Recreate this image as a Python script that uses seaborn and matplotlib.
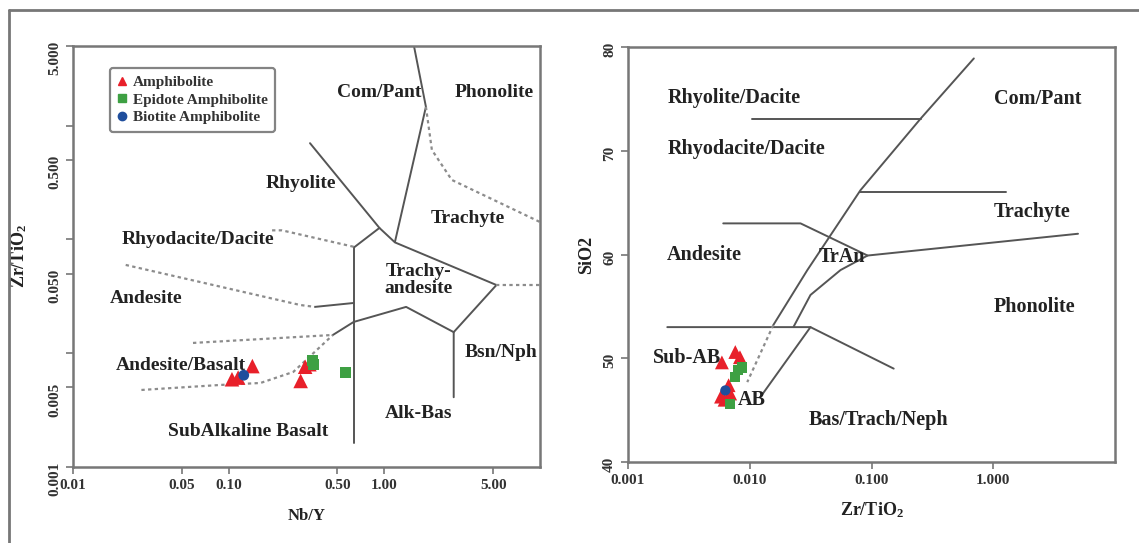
import numpy as np
import pandas as pd
import seaborn as sns
import matplotlib.pyplot as plt
from matplotlib.lines import Line2D
from matplotlib.ticker import FixedLocator, NullLocator, NullFormatter

# ---------------- sample data ----------------
rock_types = ["Amphibolite", "Epidote Amphibolite", "Biotite Amphibolite"]

# left diagram: Nb/Y vs Zr/TiO2
amph_nby = [0.105, 0.115, 0.142, 0.31, 0.33, 0.29]
amph_zr_left = [0.0059, 0.0061, 0.0077, 0.0076, 0.0080, 0.0057]
epi_nby = [0.345, 0.35, 0.56]
epi_zr_left = [0.0086, 0.0080, 0.0068]
bio_nby = [0.125]
bio_zr_left = [0.0064]

# right diagram: Zr/TiO2 vs SiO2
amph_zr_right = [0.0076, 0.0083, 0.0059, 0.0058, 0.0069, 0.0062, 0.0067]
amph_sio2 = [50.6, 50.1, 49.6, 46.3, 46.6, 46.0, 47.4]
epi_zr_right = [0.0086, 0.0076, 0.0069, 0.0080]
epi_sio2 = [49.1, 48.2, 45.6, 48.9]
bio_zr_right = [0.0063]
bio_sio2 = [46.9]

# ---------------- field boundaries ----------------
# left (Nb/Y, Zr/TiO2)
left_solid = [
    [(1.55, 5.0), (1.85, 1.46), (1.17, 0.095)],
    [(0.333, 0.70), (0.93, 0.126), (1.17, 0.094), (5.25, 0.0397)],
    [(0.93, 0.126), (0.644, 0.0857)],
    [(0.635, 0.0857), (0.635, 0.00163)],
    [(5.25, 0.0397), (2.79, 0.0153), (2.79, 0.0041)],
    [(2.79, 0.0153), (1.38, 0.0255), (0.635, 0.0188), (0.467, 0.01445)],
    [(0.358, 0.0255), (0.635, 0.0276)],
]
left_dotted = [
    [(1.85, 1.46), (2.02, 0.611), (2.71, 0.333), (10.0, 0.142)],
    [(0.19, 0.12), (0.22, 0.12), (0.644, 0.0857)],
    [(0.0218, 0.0596), (0.288, 0.0265), (0.358, 0.0255)],
    [(0.059, 0.0123), (0.467, 0.01445)],
    [(0.0275, 0.00475), (0.089, 0.00526), (0.16, 0.00547), (0.26, 0.00684), (0.467, 0.01445)],
    [(5.25, 0.0397), (10.0, 0.0397)],
]
left_labels = [
    ("Com/Pant", 0.93, 1.97), ("Phonolite", 5.09, 1.97), ("Rhyolite", 0.292, 0.307),
    ("Trachyte", 3.43, 0.154), ("Rhyodacite/Dacite", 0.0635, 0.0989),
    ("Trachy-\nandesite", 1.647, 0.044), ("Andesite", 0.0296, 0.0305),
    ("Andesite/Basalt", 0.0495, 0.00787), ("Bsn/Nph", 5.64, 0.0102),
    ("Alk-Bas", 1.647, 0.00298), ("SubAlkaline Basalt", 0.134, 0.00203),
]

# right (Zr/TiO2, SiO2)
right_solid = [
    [(0.0105, 73.1), (0.253, 73.1)],
    [(0.692, 78.9), (0.253, 73.1), (0.0811, 66.2), (0.0297, 58.5), (0.0156, 53.2)],
    [(0.0811, 66.0), (1.27, 66.0)],
    [(0.00605, 63.0), (0.0261, 63.0), (0.0927, 59.9), (4.96, 62.0)],
    [(0.0927, 59.9), (0.0556, 58.5), (0.0315, 56.1), (0.0228, 53.0)],
    [(0.0021, 53.0), (0.0315, 53.0), (0.152, 49.0)],
    [(0.0315, 53.0), (0.0122, 46.25)],
]
right_dotted = [
    [(0.0156, 53.2), (0.00953, 47.7)],
]
right_labels = [
    ("Rhyolite/Dacite", 0.0021, 75.1), ("Rhyodacite/Dacite", 0.0021, 70.2),
    ("Andesite", 0.0021, 60.0), ("Com/Pant", 1.01, 75.0), ("Trachyte", 1.01, 64.1),
    ("Phonolite", 1.01, 54.9), ("TrAn", 0.0366, 59.8), ("Sub-AB", 0.0016, 50.0),
    ("AB", 0.0080, 46.0), ("Bas/Trach/Neph", 0.0303, 44.0),
]

colors = {"Amphibolite": "#e8202a", "Epidote Amphibolite": "#3ea043", "Biotite Amphibolite": "#1f4e9c"}
markers = {"Amphibolite": "^", "Epidote Amphibolite": "s", "Biotite Amphibolite": "o"}
sizes = {"Amphibolite": 110, "Epidote Amphibolite": 60, "Biotite Amphibolite": 60}

left_df = pd.DataFrame({
    "x": amph_nby + epi_nby + bio_nby,
    "y": amph_zr_left + epi_zr_left + bio_zr_left,
    "type": ["Amphibolite"] * len(amph_nby) + ["Epidote Amphibolite"] * len(epi_nby)
            + ["Biotite Amphibolite"] * len(bio_nby),
})
right_df = pd.DataFrame({
    "x": amph_zr_right + epi_zr_right + bio_zr_right,
    "y": amph_sio2 + epi_sio2 + bio_sio2,
    "type": ["Amphibolite"] * len(amph_zr_right) + ["Epidote Amphibolite"] * len(epi_zr_right)
            + ["Biotite Amphibolite"] * len(bio_zr_right),
})

# ---------------- style ----------------
sns.set_theme(style="ticks")
plt.rcParams["font.family"] = ["Liberation Serif", "DejaVu Serif"]
plt.rcParams["font.weight"] = "bold"
plt.rcParams["mathtext.fontset"] = "custom"
plt.rcParams["mathtext.rm"] = "Liberation Serif:bold"
plt.rcParams["mathtext.it"] = "Liberation Serif:bold"

LINE = "#555555"
DOT = "#8c8c8c"
SPINE = "#777777"
TXT = "#222222"

fig = plt.figure(figsize=(11.39, 5.43), dpi=100)
ax1 = fig.add_axes([0.0641, 0.140, 0.410, 0.7753])
ax2 = fig.add_axes([0.5514, 0.1492, 0.4276, 0.7642])


def draw_lines(ax, solid, dotted):
    for seg in solid:
        xs, ys = zip(*seg)
        ax.plot(xs, ys, color=LINE, lw=1.4, zorder=2)
    for seg in dotted:
        xs, ys = zip(*seg)
        ax.plot(xs, ys, color=DOT, lw=1.6, ls=(0, (1.5, 1.5)), zorder=2)


def draw_points(ax, df, scale=1.0):
    for t in rock_types:
        sub = df[df["type"] == t]
        sns.scatterplot(data=sub, x="x", y="y", ax=ax, color=colors[t], marker=markers[t],
                        s=sizes[t] * scale, edgecolor="none", legend=False, zorder=4)


def style_axes(ax):
    for sp in ax.spines.values():
        sp.set_color(SPINE)
        sp.set_linewidth(1.8)
    ax.tick_params(which="both", direction="out", length=5, width=1.2, color=SPINE,
                   labelsize=11, labelcolor="#333333")
    ax.tick_params(axis="y", which="both", labelrotation=90)
    for lab in ax.get_xticklabels() + ax.get_yticklabels():
        lab.set_fontweight("bold")
    ax.set_facecolor("white")


# ---------------- left panel ----------------
ax1.set_xscale("log")
ax1.set_yscale("log")
draw_lines(ax1, left_solid, left_dotted)
draw_points(ax1, left_df)
for txt, x, y in left_labels:
    ax1.text(x, y, txt, ha="center", va="center", fontsize=14, fontweight="bold",
             color=TXT, linespacing=0.95, zorder=3)
ax1.set_xlim(0.01, 10)
ax1.set_ylim(0.001, 5)
ax1.set_xticks([0.01, 0.05, 0.1, 0.5, 1, 5], ["0.01", "0.05", "0.10", "0.50", "1.00", "5.00"])
ax1.xaxis.set_minor_locator(NullLocator())
ax1.set_yticks([0.001, 0.005, 0.05, 0.5, 5], ["0.001", "0.005", "0.050", "0.500", "5.000"])
ax1.yaxis.set_minor_locator(FixedLocator([0.01, 0.1, 1]))
ax1.yaxis.set_minor_formatter(NullFormatter())
ax1.set_xlabel("Nb/Y", fontsize=12, fontweight="bold", color=TXT, labelpad=12)
ax1.set_ylabel("Zr/TiO$_2$", fontsize=13, fontweight="bold", color=TXT, labelpad=14)
style_axes(ax1)

handles = [Line2D([], [], ls="none", marker=markers[t], color=colors[t], markersize=6) for t in rock_types]
leg = ax1.legend(handles, rock_types, loc="upper left", bbox_to_anchor=(0.079, 0.948),
                 borderaxespad=0, frameon=True, fancybox=True, handlelength=0.6,
                 handletextpad=0.4, labelspacing=0.25, borderpad=0.5,
                 prop={"family": "Liberation Serif", "weight": "bold", "size": 11})
leg.get_frame().set_edgecolor("#666666")
leg.get_frame().set_linewidth(1.6)
for t in leg.get_texts():
    t.set_color("#333333")

# ---------------- right panel ----------------
ax2.set_xscale("log")
draw_lines(ax2, right_solid, right_dotted)
draw_points(ax2, right_df, scale=0.9)
for txt, x, y in right_labels:
    ax2.text(x, y, txt, ha="left", va="center", fontsize=14.5, fontweight="bold",
             color=TXT, zorder=3)
ax2.set_xlim(0.001, 10)
ax2.set_ylim(40, 80)
ax2.set_xticks([0.001, 0.01, 0.1, 1], ["0.001", "0.010", "0.100", "1.000"])
ax2.xaxis.set_minor_locator(NullLocator())
ax2.set_yticks([40, 50, 60, 70, 80])
ax2.set_xlabel("Zr/TiO$_2$", fontsize=13, fontweight="bold", color=TXT, labelpad=10)
ax2.set_ylabel("SiO2", fontsize=13, fontweight="bold", color=TXT, labelpad=6)
style_axes(ax2)

# outer frame of the figure (top and left edges)
fig.add_artist(Line2D([0.0079, 1.0], [0.9816, 0.9816], transform=fig.transFigure, color="#777777", lw=2))
fig.add_artist(Line2D([0.0079, 0.0079], [0.0, 0.9816], transform=fig.transFigure, color="#777777", lw=2))

fig.savefig("out.png", dpi=100)
